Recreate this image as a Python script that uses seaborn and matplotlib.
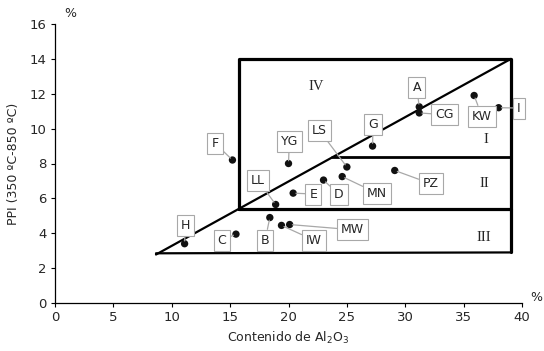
import matplotlib
matplotlib.use("Agg")
import matplotlib.pyplot as plt
import pandas as pd
import seaborn as sns

# sample points (Al2O3 %, PPI %)
names = ["F", "YG", "LS", "MN", "D", "E", "LL", "B", "IW", "MW",
         "H", "C", "G", "A", "CG", "KW", "I", "PZ"]
al2o3 = [15.2, 20.0, 25.0, 24.6, 23.0, 20.4, 18.9, 18.4, 19.4, 20.1,
         11.1, 15.5, 27.2, 31.2, 31.2, 35.9, 38.0, 29.1]
ppi = [8.2, 8.0, 7.8, 7.25, 7.05, 6.3, 5.65, 4.9, 4.45, 4.5,
       3.4, 3.95, 9.0, 11.25, 10.9, 11.9, 11.2, 7.6]

# zone boundaries
rect_x = [15.75, 39.05]
rect_y = [5.4, 14.0]
mid_y = 8.35
base_x = [8.65, 39.05]
base_y = [2.85, 2.9]
zones = ["IV", "I", "II", "III"]

# where the label boxes sit
label_pos = {
    "F": (13.7, 9.16), "YG": (20.07, 9.25), "LS": (22.67, 9.88),
    "MN": (27.6, 6.29), "D": (24.33, 6.21), "E": (22.12, 6.25),
    "LL": (17.39, 7.04), "B": (18.0, 3.6), "IW": (22.18, 3.6),
    "MW": (25.5, 4.2), "H": (11.16, 4.46), "C": (14.3, 3.6),
    "G": (27.24, 10.26), "A": (30.98, 12.37), "CG": (33.38, 10.8),
    "KW": (36.57, 10.71), "I": (39.74, 11.18), "PZ": (32.2, 6.84),
}
zone_pos = [(22.35, 12.44), (36.9, 9.35), (36.8, 6.88), (36.75, 3.78)]

df = pd.DataFrame({"name": names, "al2o3": al2o3, "ppi": ppi})

sns.set_style("ticks")
plt.rcParams["font.family"] = ["DejaVu Sans"]

fig = plt.figure(figsize=(5.44, 3.51), dpi=100)
ax = fig.add_axes([55 / 544, 48 / 351, 467 / 544, 279 / 351])

# diagonal: through the rectangle's lower-left corner to its upper-right
slope = (rect_y[1] - rect_y[0]) / (rect_x[1] - rect_x[0])
diag_x0 = base_x[0]
diag_y0 = rect_y[0] - slope * (rect_x[0] - diag_x0)
ax.plot([diag_x0, rect_x[1]], [diag_y0, rect_y[1]], color="black", lw=1.6, zorder=2)
mid_x0 = rect_x[0] + (mid_y - rect_y[0]) / slope
ax.plot([mid_x0, rect_x[1]], [mid_y, mid_y], color="black", lw=2.0, zorder=2)
ax.plot([rect_x[0], rect_x[0], rect_x[1], rect_x[1], rect_x[0]],
        [rect_y[0], rect_y[1], rect_y[1], rect_y[0], rect_y[0]],
        color="black", lw=2.3, zorder=2)
ax.plot([rect_x[1], rect_x[1]], [base_y[1], rect_y[0]], color="black", lw=2.3, zorder=2)
ax.plot(base_x, base_y, color="black", lw=1.6, zorder=2)

sns.scatterplot(data=df, x="al2o3", y="ppi", ax=ax, color="#111111",
                s=28, edgecolor="none", zorder=4, legend=False)

for n, x, y in zip(names, al2o3, ppi):
    ax.annotate(n, xy=(x, y), xytext=label_pos[n], textcoords="data",
                ha="center", va="center", fontsize=9, zorder=5,
                bbox=dict(boxstyle="square,pad=0.32", fc="white", ec="#a8a8a8", lw=0.8),
                arrowprops=dict(arrowstyle="-", color="#a8a8a8", lw=0.9,
                                shrinkA=0, shrinkB=2))

for z, (zx, zy) in zip(zones, zone_pos):
    ax.text(zx, zy, z, ha="center", va="center", fontsize=10.5,
            family="Liberation Serif", zorder=3)

ax.set_xlim(0, 40)
ax.set_ylim(0, 16)
ax.set_xticks(range(0, 41, 5))
ax.set_yticks(range(0, 17, 2))
ax.tick_params(labelsize=9.5, length=3, width=0.8, color="black", pad=3)
for s in ["left", "bottom"]:
    ax.spines[s].set_linewidth(0.9)
    ax.spines[s].set_color("black")
sns.despine(ax=ax)

ax.set_xlabel("Contenido de Al$_2$O$_3$", fontsize=9, labelpad=4)
ax.set_ylabel("PPI (350 ºC-850 ºC)", fontsize=9, labelpad=7)
ax.text(1.3, 16.6, "%", fontsize=9, ha="center", va="center", clip_on=False)
ax.text(41.2, 0.3, "%", fontsize=9, ha="center", va="center", clip_on=False)

fig.savefig("out.png", dpi=100)
